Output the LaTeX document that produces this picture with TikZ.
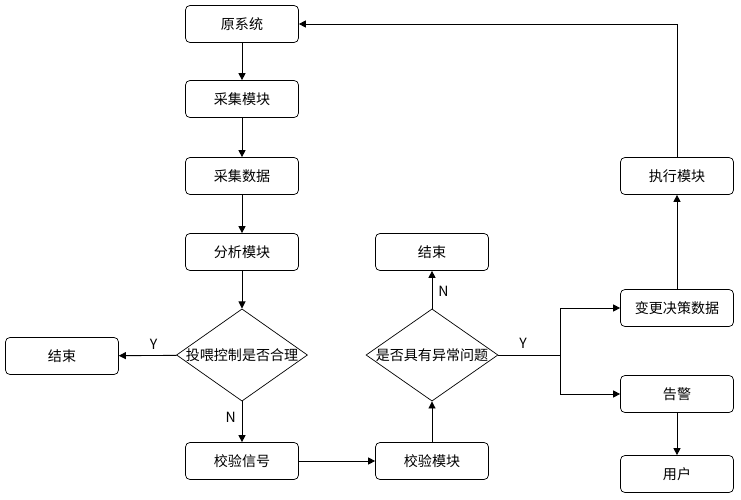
\documentclass[tikz,border=0pt]{standalone}
\usepackage{fontspec}
\setmainfont{Noto Sans CJK SC}
\usetikzlibrary{shapes.geometric,arrows.meta}
\tikzset{
  box/.style={draw, rounded corners=2.5pt, minimum width=2.26cm, minimum height=0.74cm, font=\fontsize{8pt}{9pt}\selectfont},
  choice/.style={draw, diamond, aspect=1.42, minimum width=2.64cm, minimum height=1.8cm, inner sep=0pt, font=\fontsize{8pt}{9pt}\selectfont},
  flow/.style={-{Triangle[length=4pt,width=4pt]}, line width=0.5pt},
  tag/.style={font=\fontsize{8pt}{9pt}\selectfont}
}
\begin{document}
\begin{tikzpicture}[x=0.02cm, y=-0.02cm]
    \useasboundingbox (0,0) rectangle (741,500);

    % Left column
    \node[box] (src) at (242,24) {原系统};
    \node[box] (acqm) at (242,99) {采集模块};
    \node[box] (acqd) at (242,176) {采集数据};
    \node[box] (anal) at (242,252) {分析模块};
    \node[choice, minimum width=2.6cm] (feed) at (242,355) {投喂控制是否合理};
    \node[box] (endl) at (62,356) {结束};
    \node[box] (sig) at (242,461) {校验信号};

    % Middle column
    \node[box] (chk) at (432,461) {校验模块};
    \node[choice] (abn) at (432,355) {是否具有异常问题};
    \node[box] (endu) at (432,252) {结束};

    % Right column
    \node[box] (exe) at (677,176) {执行模块};
    \node[box] (chg) at (677,308) {变更决策数据};
    \node[box] (warn) at (677,394) {告警};
    \node[box] (user) at (677,474) {用户};
    \coordinate (fork) at (560,355);

    % Connectors
    \draw[flow] (src) -- (acqm);
    \draw[flow] (acqm) -- (acqd);
    \draw[flow] (acqd) -- (anal);
    \draw[flow] (anal) -- (feed);
    \draw[flow] (feed) -- node[tag, above, pos=0.4] {Y} (endl);
    \draw[flow] (feed) -- node[tag, left, pos=0.4] {N} (sig);
    \draw[flow] (sig) -- (chk);
    \draw[flow] (chk) -- (abn);
    \draw[flow] (abn) -- node[tag, right, pos=0.45] {N} (endu);
    \draw[line width=0.5pt] (abn) -- node[tag, above, pos=0.4] {Y} (fork);
    \draw[flow] (fork) |- (chg);
    \draw[flow] (fork) |- (warn);
    \draw[flow] (warn) -- (user);
    \draw[flow] (chg) -- (exe);
    \draw[flow] (exe.north) |- (src.east);
\end{tikzpicture}
\end{document}
